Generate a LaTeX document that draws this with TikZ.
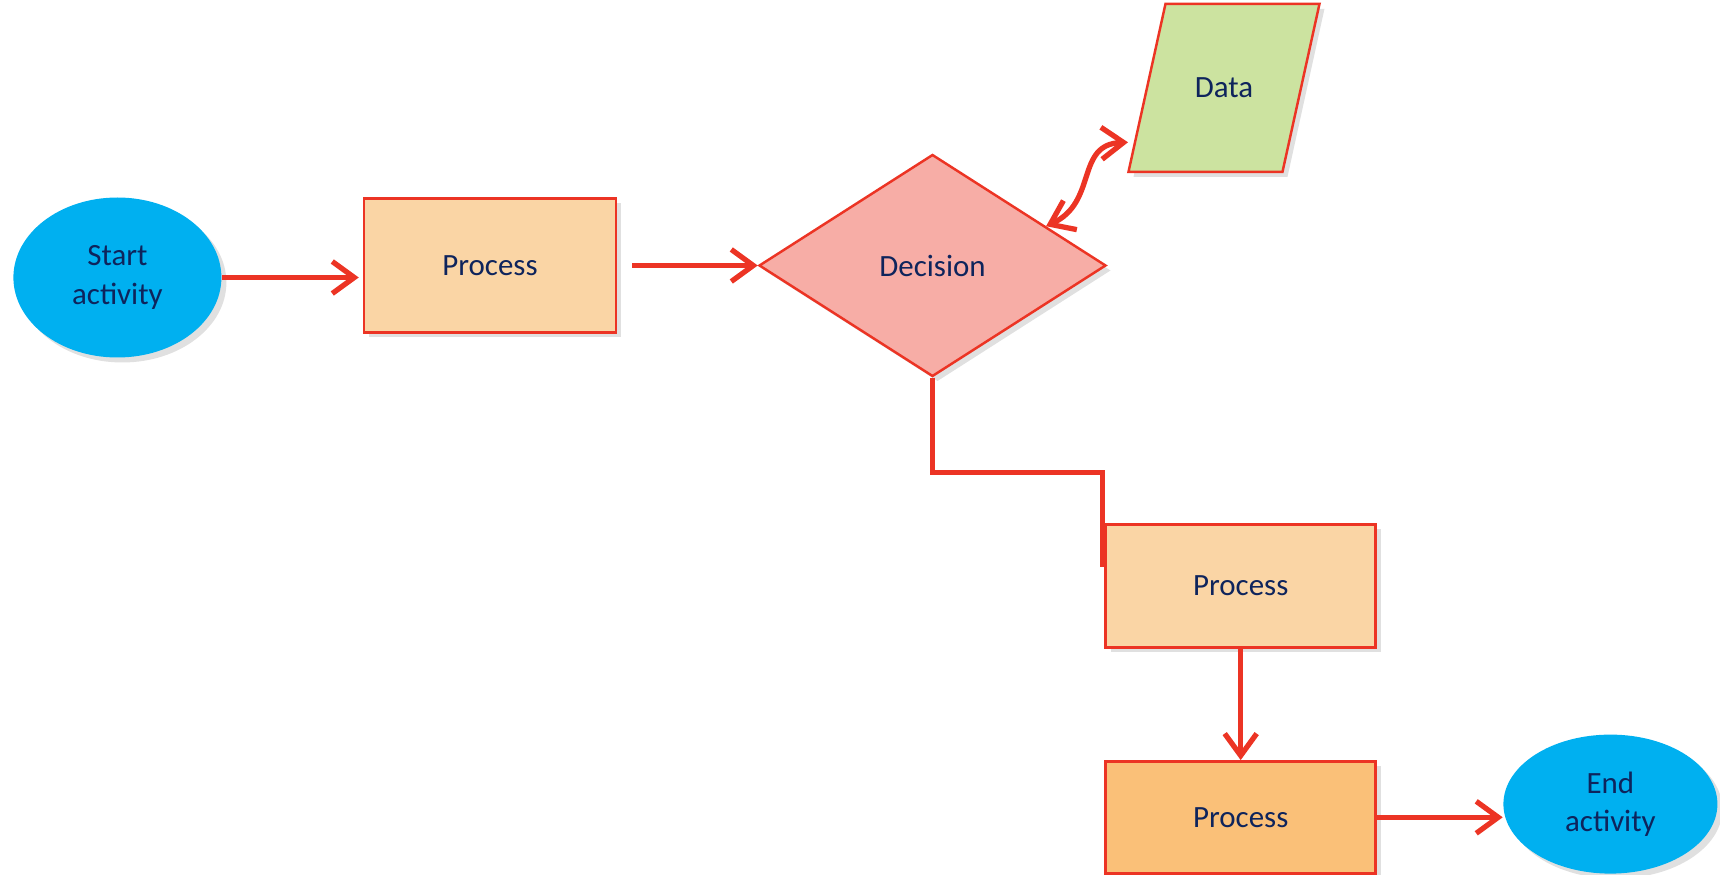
\documentclass[tikz,border=0pt]{standalone}
\usepackage{fontspec}
\setmainfont{Carlito}
\usetikzlibrary{shapes.geometric,arrows.meta,calc,shadows}
\definecolor{flowred}{RGB}{236,52,36}
\definecolor{flowtext}{RGB}{14,36,92}
\definecolor{termblue}{RGB}{0,176,240}
\definecolor{procfill}{RGB}{250,213,165}
\definecolor{procdark}{RGB}{250,192,120}
\definecolor{decfill}{RGB}{247,173,166}
\definecolor{datafill}{RGB}{204,227,160}

\begin{document}
\begin{tikzpicture}[
    font=\fontsize{8.8}{10.9}\selectfont, text=flowtext,
    >={Straight Barb[length=2.2mm,width=3.2mm]},
    soft/.style={drop shadow={shadow xshift=0.5mm,shadow yshift=-0.5mm,opacity=0.12,fill=black}},
    term/.style={ellipse,fill=termblue,align=center,inner sep=0pt,soft},
    box/.style={draw=flowred,line width=0.7pt,inner sep=0pt,soft},
    proc/.style={box,rectangle,fill=procfill},
    wire/.style={draw=flowred,line width=1.5pt}
  ]
  \useasboundingbox (0,0) rectangle (17.2,-8.75);
  \node[term,minimum width=2.08cm,minimum height=1.6cm] (start) at (1.174,-2.775) {Start\\activity};
  \node[proc,minimum width=2.52cm,minimum height=1.34cm] (proc1) at (4.9,-2.655) {Process};
  \node[box,diamond,fill=decfill,minimum width=3.47cm,minimum height=2.22cm] (dec) at (9.325,-2.655) {Decision};
  \coordinate (datac) at (12.24,-0.878);
  \path[box,fill=datafill] ($(datac)+(-0.955,-0.84)$) -- ++(1.54,0) -- ++(0.37,1.68) -- ++(-1.54,0) -- cycle;
  \node (data) at (datac) {Data};
  \node[proc,minimum width=2.7cm,minimum height=1.23cm] (proc2) at (12.407,-5.858) {Process};
  \node[proc,fill=procdark,minimum width=2.7cm,minimum height=1.12cm] (proc3) at (12.407,-8.173) {Process};
  \node[term,minimum width=2.14cm,minimum height=1.39cm] (end) at (16.104,-8.041) {End\\activity};

  \coordinate (decne) at ($(dec.north)!0.65!(dec.east)$);
  \coordinate (datasw) at ($(datac)+(-0.96,-0.545)$);
  \coordinate (elbow) at ($(proc2.north west)+(-0.02,-0.44)$);

  \draw[wire,->,shorten >=0.04cm] (start.east) -- (start.east -| proc1.west);
  \draw[wire,->,shorten <=0.15cm] (proc1.east) -- (dec.west);
  \draw[wire,<->] (decne) .. controls +(0.52,0.24) and +(-0.53,-0.02) .. (datasw);
  \draw[wire] (dec.south) |- ($(dec.south)!0.5!(elbow)$) -| (elbow);
  \draw[wire,->] (proc2.south) -- (proc3.north);
  \draw[wire,->] (proc3.east) -- (proc3.east -| end.west);
\end{tikzpicture}
\end{document}
